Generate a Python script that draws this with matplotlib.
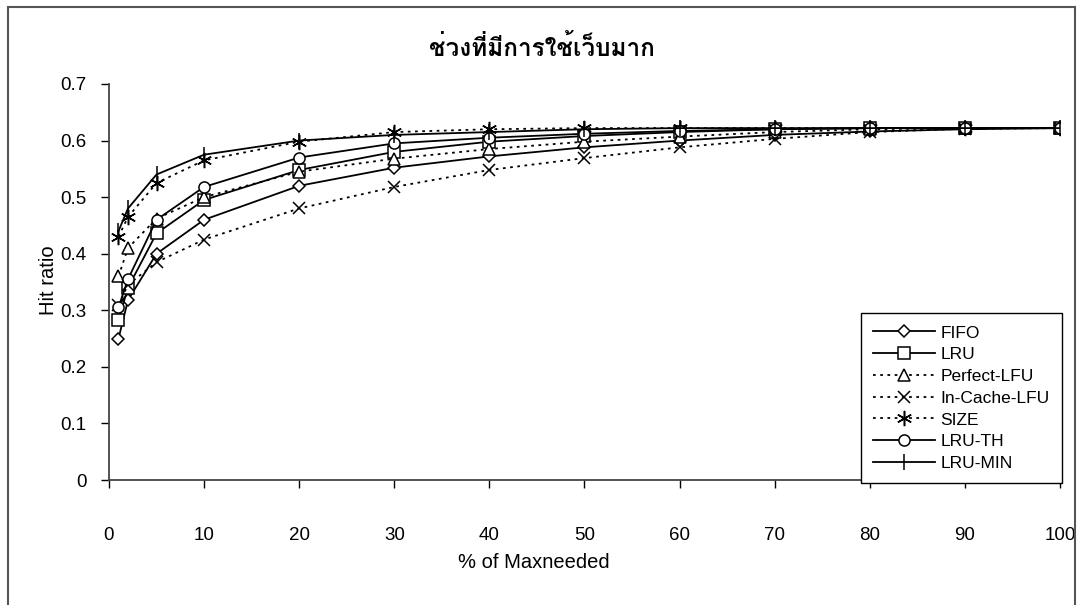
import matplotlib
matplotlib.use("Agg")
import matplotlib.pyplot as plt
from matplotlib import font_manager
from matplotlib.ft2font import FT2Font
from matplotlib.patches import Rectangle
from matplotlib.ticker import FuncFormatter

# data
x_pct = [1, 2, 5, 10, 20, 30, 40, 50, 60, 70, 80, 90, 100]
fifo = [0.25, 0.318, 0.40, 0.46, 0.52, 0.552, 0.572, 0.588, 0.60, 0.61, 0.616, 0.62, 0.622]
lru = [0.283, 0.34, 0.436, 0.495, 0.548, 0.58, 0.598, 0.608, 0.615, 0.62, 0.622, 0.622, 0.622]
perfect_lfu = [0.36, 0.41, 0.462, 0.50, 0.545, 0.568, 0.585, 0.598, 0.607, 0.615, 0.62, 0.622, 0.622]
in_cache_lfu = [0.31, 0.345, 0.385, 0.425, 0.48, 0.518, 0.548, 0.569, 0.588, 0.603, 0.615, 0.621, 0.622]
size = [0.43, 0.465, 0.525, 0.565, 0.598, 0.615, 0.62, 0.622, 0.622, 0.622, 0.622, 0.622, 0.622]
lru_th = [0.305, 0.355, 0.46, 0.518, 0.57, 0.595, 0.605, 0.612, 0.617, 0.62, 0.622, 0.622, 0.622]
lru_min = [0.44, 0.48, 0.54, 0.575, 0.6, 0.61, 0.615, 0.62, 0.622, 0.622, 0.622, 0.622, 0.622]

title = "ช่วงที่มีการใช้เว็บมาก"
x_label = "% of Maxneeded"
y_label = "Hit ratio"

# find an installed font that has Thai glyphs
thai_font = None
for f in font_manager.fontManager.ttflist:
    try:
        if 0x0E0A in FT2Font(f.fname).get_charmap():
            thai_font = f.name
            break
    except Exception:
        pass

plt.rcParams["font.family"] = ["Liberation Sans", "DejaVu Sans"]

fig = plt.figure(figsize=(10.78, 6.05), dpi=100)
ax = fig.add_axes([0.1011, 0.2066, 0.8822, 0.6546])

dotted = (0, (1.5, 2.5))
series = [
    ("FIFO", fifo, "-", "D", 6),
    ("LRU", lru, "-", "s", 8),
    ("Perfect-LFU", perfect_lfu, dotted, "^", 8),
    ("In-Cache-LFU", in_cache_lfu, dotted, "x", 9),
    ("SIZE", size, dotted, (6, 2, 0), 11),
    ("LRU-TH", lru_th, "-", "o", 8),
    ("LRU-MIN", lru_min, "-", "|", 11),
]
for name, vals, ls, mk, ms in series:
    ax.plot(x_pct, vals, color="black", linestyle=ls, linewidth=1.3,
            marker=mk, markersize=ms, markerfacecolor="white",
            markeredgecolor="black", markeredgewidth=1.1, label=name)

ax.set_xlim(0, 100)
ax.set_ylim(0, 0.7)
ax.set_xticks(range(0, 101, 10))
ax.set_yticks([0, 0.1, 0.2, 0.3, 0.4, 0.5, 0.6, 0.7])
ax.yaxis.set_major_formatter(FuncFormatter(lambda v, p: "%g" % round(v, 1)))
ax.tick_params(axis="x", direction="out", length=6, width=1, pad=28, labelsize=13.5)
ax.tick_params(axis="y", direction="out", length=6, width=1, pad=10, labelsize=13.5)
for s in ["top", "right"]:
    ax.spines[s].set_visible(False)
for s in ["left", "bottom"]:
    ax.spines[s].set_color("#444444")
    ax.spines[s].set_linewidth(1.3)

fig.text(534 / 1078, 1 - 563 / 605, x_label, ha="center", va="center", fontsize=14.5)
fig.text(48 / 1078, 1 - 280 / 605, y_label, ha="center", va="center",
         rotation=90, fontsize=14.5)

tfam = [thai_font, "DejaVu Sans"] if thai_font else ["DejaVu Sans"]
fig.text(542 / 1078, 1 - 48 / 605, title, ha="center", va="center",
         fontsize=17.5, fontweight="bold", family=tfam)

leg = ax.legend(loc="lower right", bbox_to_anchor=(1.002, -0.008), fontsize=12.5,
                frameon=True, fancybox=False, edgecolor="black", framealpha=1,
                handlelength=3.6, handletextpad=0.3, labelspacing=0.38,
                borderpad=0.7, borderaxespad=0)
leg.get_frame().set_linewidth(1.0)

# outer frame around the chart
fig.patches.append(Rectangle((8 / 1078, -0.1), 1067 / 1078 - 0.0001, 1.1 - 7 / 605,
                             transform=fig.transFigure, fill=False,
                             edgecolor="#555555", linewidth=1.5))

fig.savefig("out.png", dpi=100)
